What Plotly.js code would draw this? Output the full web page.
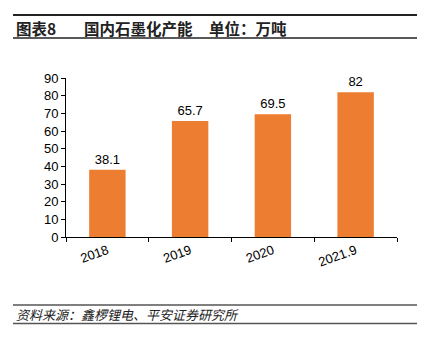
<!DOCTYPE html>
<html><head><meta charset="utf-8">
<script src="https://cdn.plot.ly/plotly-3.0.1.min.js"></script>
<style>html,body{margin:0;padding:0;background:#fff}#c{width:425px;height:346px}</style>
</head><body><div id="c"></div>
<script>
var categories = ["2018", "2019", "2020", "2021.9"];
var capacity = [38.1, 65.7, 69.5, 82];
var labels = ["38.1", "65.7", "69.5", "82"];
var yTicks = [0, 10, 20, 30, 40, 50, 60, 70, 80, 90];

var L = 66, R = 397, T = 78, B = 237, W = 425, H = 346;
function px(x){ return (x - L) / (R - L); }
function py(y){ return (B - y) / (B - T); }

var cjk = '"Noto Sans CJK SC", "Liberation Sans", Arial, sans-serif';
var latin = '"Liberation Sans", Arial, sans-serif';

var trace = {
  type: 'bar', x: categories, y: capacity,
  marker: {color: '#ED7D31'}, width: 0.44,
  text: labels, textposition: 'outside', cliponaxis: false,
  textfont: {family: latin, size: 13, color: '#000'},
  hoverinfo: 'none'
};

var layout = {
  width: W, height: H, paper_bgcolor: '#fff', plot_bgcolor: '#fff',
  margin: {l: L, r: W - R, t: T, b: H - B},
  showlegend: false, bargap: 0.56,
  xaxis: {
    type: 'category', showline: true, linecolor: '#000', linewidth: 1,
    ticks: 'outside', ticklen: 4, tickcolor: '#000', tickson: 'boundaries',
    tickangle: -20, tickfont: {family: latin, size: 13, color: '#000'},
    showgrid: false, zeroline: false, fixedrange: true
  },
  yaxis: {
    range: [0, 90], tickvals: yTicks, showline: true, linecolor: '#000', linewidth: 1,
    ticks: 'outside', ticklen: 4, tickcolor: '#000',
    tickfont: {family: latin, size: 13, color: '#000'},
    showgrid: false, zeroline: false, fixedrange: true
  },
  shapes: [
    {type: 'line', xref: 'paper', yref: 'paper', x0: px(13), x1: px(417), y0: py(15), y1: py(15), line: {color: '#222', width: 2}},
    {type: 'line', xref: 'paper', yref: 'paper', x0: px(13), x1: px(417), y0: py(38), y1: py(38), line: {color: '#222', width: 1.5}},
    {type: 'line', xref: 'paper', yref: 'paper', x0: px(13), x1: px(417), y0: py(305), y1: py(305), line: {color: '#555', width: 1.5}},
    {type: 'line', xref: 'paper', yref: 'paper', x0: px(13), x1: px(417), y0: py(323.5), y1: py(323.5), line: {color: '#555', width: 1.5}}
  ],
  annotations: [
    {xref: 'paper', yref: 'paper', x: px(14), y: py(28.5), xanchor: 'left', yanchor: 'middle', showarrow: false,
     text: '<b>图表8</b>', font: {family: cjk, size: 15.5, color: '#222'}},
    {xref: 'paper', yref: 'paper', x: px(82), y: py(28.5), xanchor: 'left', yanchor: 'middle', showarrow: false,
     text: '<b>国内石墨化产能</b>', font: {family: cjk, size: 15.5, color: '#222'}},
    {xref: 'paper', yref: 'paper', x: px(207), y: py(28.5), xanchor: 'left', yanchor: 'middle', showarrow: false,
     text: '<b>单位：万吨</b>', font: {family: cjk, size: 15.5, color: '#222'}},
    {xref: 'paper', yref: 'paper', x: px(14), y: py(314), xanchor: 'left', yanchor: 'middle', showarrow: false,
     text: '<i>资料来源：鑫椤锂电、平安证券研究所</i>', font: {family: cjk, size: 13, color: '#222'}}
  ]
};

Plotly.newPlot('c', [trace], layout, {displayModeBar: false, staticPlot: true});
</script></body></html>
